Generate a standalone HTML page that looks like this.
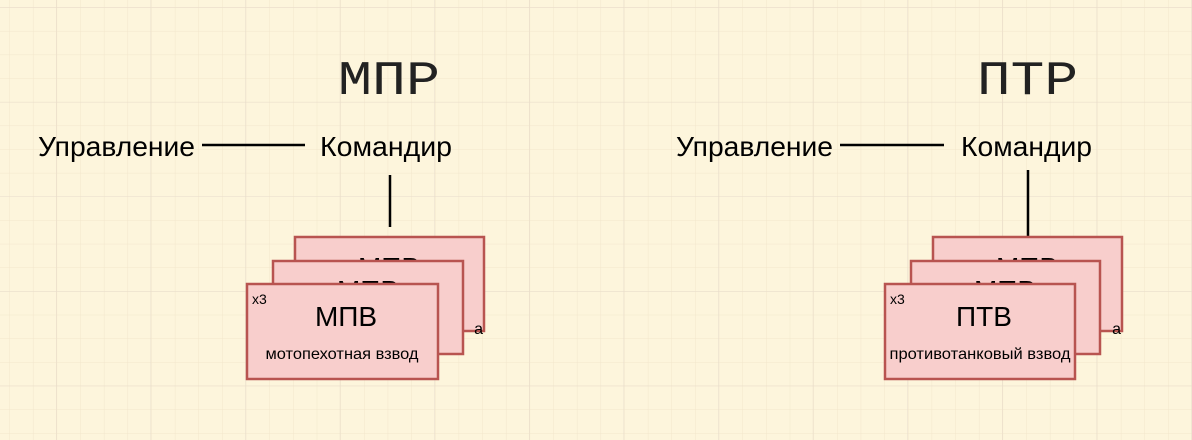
<!DOCTYPE html>
<html><head><meta charset="utf-8"><style>
html,body{margin:0;padding:0;}
body{width:1192px;height:440px;overflow:hidden;background:#fdf5dc;}
svg{display:block;font-family:"Liberation Sans",sans-serif;}
</style></head><body>
<svg width="1192" height="440" xmlns="http://www.w3.org/2000/svg">
<defs>
<pattern id="minor" x="9.3" y="7.3" width="23.65" height="23.65" patternUnits="userSpaceOnUse">
<path d="M0 0H23.65M0 0V23.65" stroke="#f2e6cc" stroke-width="1" fill="none"/>
</pattern>
<pattern id="major" x="56" y="7.3" width="94.6" height="94.6" patternUnits="userSpaceOnUse">
<path d="M0 0H94.6M0 0V94.6" stroke="#e8dccb" stroke-width="1" fill="none"/>
</pattern>
</defs>
<rect width="1192" height="440" fill="#fdf5dc"/>
<rect width="1192" height="440" fill="url(#minor)"/>
<rect width="1192" height="440" fill="url(#major)"/>

<g font-family="Liberation Mono, monospace" font-size="48" fill="#222">
<text x="338" y="94" textLength="102" lengthAdjust="spacingAndGlyphs">МПР</text>
<text x="977" y="94" textLength="101" lengthAdjust="spacingAndGlyphs">ПТР</text>
</g>
<g font-size="28" fill="#000">
<text x="38" y="156" textLength="157" lengthAdjust="spacingAndGlyphs">Управление</text>
<text x="320" y="156" textLength="132" lengthAdjust="spacingAndGlyphs">Командир</text>
<text x="676" y="156" textLength="157" lengthAdjust="spacingAndGlyphs">Управление</text>
<text x="961" y="156" textLength="131" lengthAdjust="spacingAndGlyphs">Командир</text>
</g>
<g stroke="#000" stroke-width="2.5">
<line x1="202" y1="145" x2="305" y2="145"/>
<line x1="390" y1="175" x2="390" y2="227"/>
<line x1="840" y1="145" x2="944" y2="145"/>
<line x1="1028" y1="170" x2="1028" y2="237"/>
</g>

<g stroke="#b85450" stroke-width="2.5" fill="#f8cecc">
<rect x="295" y="237" width="189" height="94"/>
<text x="389" y="277" font-size="28" fill="#000" stroke="none" text-anchor="middle">МПВ</text>
<text x="483" y="334" font-size="16" fill="#000" stroke="none" text-anchor="end">а</text>
<rect x="273" y="261" width="190" height="93"/>
<text x="368" y="300" font-size="28" fill="#000" stroke="none" text-anchor="middle">МПВ</text>
<rect x="247" y="284" width="191" height="95"/>
<rect x="933" y="237" width="189" height="94"/>
<text x="1027" y="277" font-size="28" fill="#000" stroke="none" text-anchor="middle">МПВ</text>
<text x="1121" y="334" font-size="16" fill="#000" stroke="none" text-anchor="end">а</text>
<rect x="911" y="261" width="189" height="93"/>
<text x="1005" y="300" font-size="28" fill="#000" stroke="none" text-anchor="middle">МПВ</text>
<rect x="885" y="284" width="190" height="95"/>
</g>
<g fill="#000">
<text x="346" y="326" font-size="28" text-anchor="middle">МПВ</text>
<text x="342" y="359" font-size="16" text-anchor="middle" textLength="153" lengthAdjust="spacingAndGlyphs">мотопехотная взвод</text>
<text x="252" y="304" font-size="14">x3</text>
<text x="984" y="326" font-size="28" text-anchor="middle">ПТВ</text>
<text x="980" y="359" font-size="16" text-anchor="middle" textLength="181" lengthAdjust="spacingAndGlyphs">противотанковый взвод</text>
<text x="890" y="304" font-size="14">x3</text>
</g>
</svg>
</body></html>
